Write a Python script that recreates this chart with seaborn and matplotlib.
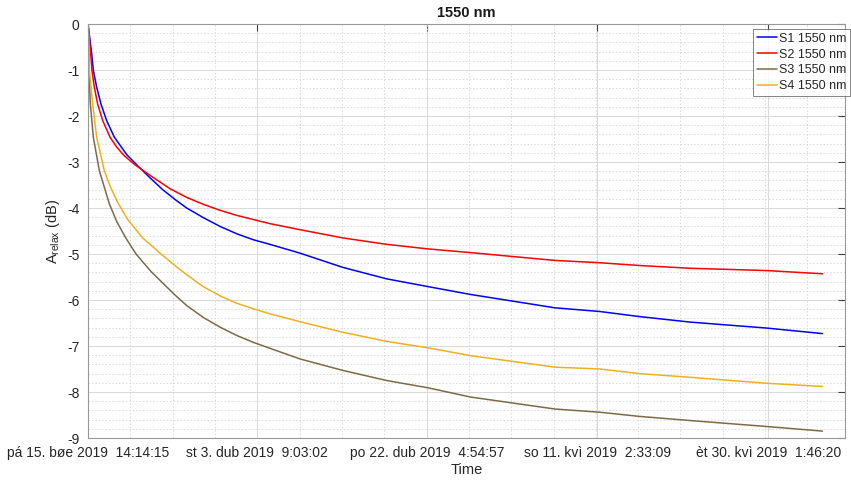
import numpy as np
import pandas as pd
import seaborn as sns
import matplotlib
matplotlib.use("Agg")
import matplotlib.pyplot as plt
import matplotlib.dates as mdates
from matplotlib.ticker import MultipleLocator, FixedLocator

# === DATA ===
start_time = "2019-03-15 14:14:15"

series_names = ["S1 1550 nm", "S2 1550 nm", "S3 1550 nm", "S4 1550 nm"]
series_colors = ["#0000ff", "#ff0000", "#7f6a48", "#edb120"]

# days since start, A_relax in dB
s1_days = [0, 0.20, 0.41, 0.59, 0.96, 1.44, 2.07, 2.92, 4.30, 5.50, 6.81, 8.28, 9.76,
           10.95, 12.80, 14.65, 16.50, 18.34, 20.19, 23.5, 28.26, 33.14, 37.76, 42.46,
           51.82, 56.8, 61.17, 66.8, 75.3, 81.5]
s1_vals = [0, -0.32, -0.65, -1.01, -1.37, -1.74, -2.10, -2.46, -2.84, -3.08, -3.33, -3.60,
           -3.83, -4.00, -4.21, -4.40, -4.56, -4.69, -4.79, -4.98, -5.29, -5.54, -5.71,
           -5.88, -6.17, -6.25, -6.36, -6.48, -6.61, -6.73]

s2_days = [0, 0.15, 0.30, 0.44, 0.70, 1.07, 1.63, 2.44, 3.20, 4.00, 5.20, 7.18, 9.10,
           10.95, 12.80, 14.65, 16.50, 18.34, 20.19, 23.5, 28.26, 33.14, 37.76, 42.46,
           51.82, 56.8, 61.17, 66.8, 75.3, 81.5]
s2_vals = [0, -0.29, -0.65, -1.01, -1.37, -1.74, -2.10, -2.46, -2.68, -2.86, -3.06, -3.33,
           -3.58, -3.77, -3.92, -4.05, -4.16, -4.25, -4.34, -4.47, -4.65, -4.79, -4.89,
           -4.97, -5.14, -5.19, -5.25, -5.31, -5.36, -5.43]

s3_days = [0, 0.04, 0.11, 0.26, 0.59, 1.26, 2.37, 3.20, 4.22, 5.33, 6.99, 8.65, 9.76,
           10.95, 12.80, 14.65, 16.50, 18.34, 20.19, 23.5, 28.26, 33.14, 37.76, 42.46,
           51.82, 56.8, 61.17, 66.8, 75.3, 81.5]
s3_vals = [0, -0.29, -1.01, -1.74, -2.46, -3.19, -3.91, -4.30, -4.66, -5.00, -5.38, -5.70,
           -5.91, -6.12, -6.38, -6.59, -6.77, -6.92, -7.05, -7.28, -7.53, -7.75, -7.91,
           -8.11, -8.37, -8.44, -8.53, -8.62, -8.75, -8.85]

s4_days = [0, 0.07, 0.15, 0.52, 0.96, 1.81, 2.50, 3.29, 4.40, 6.07, 8.10, 9.76, 10.95,
           12.80, 14.65, 16.50, 18.34, 20.19, 23.5, 28.26, 33.14, 37.76, 42.46, 51.82,
           56.8, 61.17, 66.8, 75.3, 81.5]
s4_vals = [0, -0.29, -1.01, -1.74, -2.46, -3.19, -3.55, -3.88, -4.25, -4.65, -5.00, -5.27,
           -5.45, -5.71, -5.91, -6.07, -6.19, -6.30, -6.47, -6.70, -6.90, -7.04, -7.21,
           -7.46, -7.50, -7.60, -7.68, -7.81, -7.88]

tick_times = ["2019-03-15 14:14:15", "2019-04-03 09:03:02", "2019-04-22 04:54:57",
              "2019-05-11 02:33:09", "2019-05-30 01:46:20"]
tick_labels = ["pá 15. bøe 2019  14:14:15", "st 3. dub 2019  9:03:02",
               "po 22. dub 2019  4:54:57", "so 11. kvì 2019  2:33:09",
               "èt 30. kvì 2019  1:46:20"]

# === build long table ===
t0 = pd.Timestamp(start_time)
frames = []
for name, d, v in zip(series_names, [s1_days, s2_days, s3_days, s4_days],
                      [s1_vals, s2_vals, s3_vals, s4_vals]):
    frames.append(pd.DataFrame({"Time": t0 + pd.to_timedelta(d, unit="D"),
                                "A": v, "series": name}))
df = pd.concat(frames, ignore_index=True)

# === plot ===
sns.set_theme(style="white")
plt.rcParams["font.family"] = ["Liberation Sans", "DejaVu Sans"]
plt.rcParams["mathtext.default"] = "regular"

fig = plt.figure(figsize=(8.51, 4.82), dpi=100, facecolor="white")
ax = fig.add_axes([88 / 851, 1 - 438 / 482, (845 - 88) / 851, (438 - 24) / 482])

sns.lineplot(data=df, x="Time", y="A", hue="series", palette=series_colors,
             estimator=None, sort=False, linewidth=1.1, legend=False, ax=ax)

# axes limits and ticks
tick_nums = mdates.date2num(pd.to_datetime(tick_times))
step = tick_nums[1] - tick_nums[0]
ax.set_xlim(tick_nums[0], tick_nums[0] + 84.0)
ax.set_ylim(-9, 0)

ax.set_xticks(tick_nums)
ax.set_xticklabels(tick_labels)
minor_x = np.arange(tick_nums[0], tick_nums[0] + 84.0, step / 4)
ax.xaxis.set_minor_locator(FixedLocator(minor_x))
ax.yaxis.set_major_locator(MultipleLocator(1))
ax.yaxis.set_minor_locator(MultipleLocator(0.2))
ax.set_yticklabels([f"{int(v)}" for v in ax.get_yticks()])

ax.grid(which="major", color="0.85", linewidth=0.7, linestyle="-")
ax.grid(which="minor", color="0.86", linewidth=0.7, linestyle=(0, (1.5, 2)))
ax.set_axisbelow(True)

ax.tick_params(which="major", direction="in", length=5, width=0.8, top=True, right=True,
               colors="0.25", labelcolor="0.15", labelsize=10, pad=6)
ax.tick_params(which="minor", length=0)
for sp in ax.spines.values():
    sp.set_color("0.6")
    sp.set_linewidth(0.8)

ax.set_title("1550 nm", fontsize=10.5, fontweight="bold", pad=5, color="0.1")
ax.set_xlabel("Time", fontsize=10.5, color="0.15", labelpad=2)
ax.set_ylabel("A$_{relax}$ (dB)", fontsize=10.5, color="0.15", labelpad=4)

leg = ax.legend(ax.lines[:4], series_names, loc="upper left",
                bbox_to_anchor=(753 / 851, 1 - 29 / 482), bbox_transform=fig.transFigure,
                fontsize=9, frameon=True, fancybox=False, handlelength=1.6,
                handletextpad=0.2, labelspacing=0.3, borderpad=0.3, borderaxespad=0)
leg.get_frame().set_edgecolor("0.3")
leg.get_frame().set_linewidth(0.6)
for t in leg.get_texts():
    t.set_color("0.15")

plt.savefig("out.png", dpi=100, facecolor="white")
plt.close()
